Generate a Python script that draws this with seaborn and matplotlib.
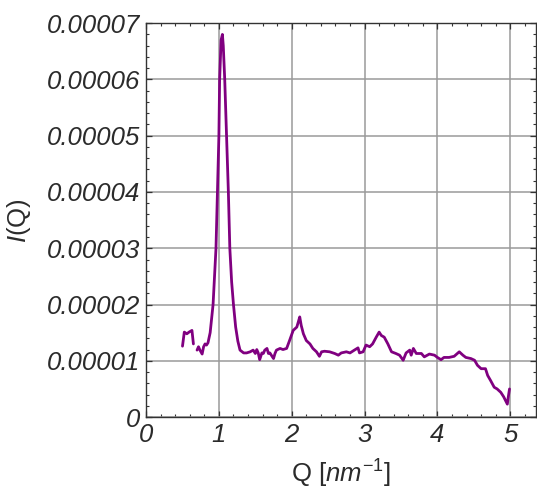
import numpy as np
import pandas as pd
import matplotlib
matplotlib.use("Agg")
import matplotlib.pyplot as plt
import seaborn as sns
from matplotlib.ticker import MultipleLocator

# Data (Q in nm^-1, I(Q) in units of 1e-5)
q_seg1 = [0.50, 0.525, 0.56, 0.59, 0.63, 0.65]
i_seg1 = [1.26, 1.51, 1.48, 1.51, 1.54, 1.30]

q_seg2 = [0.70, 0.72, 0.74, 0.77, 0.79, 0.81, 0.83, 0.85, 0.88, 0.90, 0.92, 0.94,
          0.96, 0.98, 1.00, 1.01, 1.03, 1.048, 1.06, 1.08, 1.105, 1.13, 1.15, 1.175,
          1.20, 1.23, 1.26, 1.29, 1.34, 1.38, 1.43, 1.47, 1.50, 1.52, 1.54, 1.56, 1.59,
          1.61, 1.63, 1.66, 1.68, 1.70, 1.72, 1.75, 1.77, 1.79, 1.84, 1.88, 1.93,
          1.97, 2.02, 2.07, 2.09, 2.11, 2.13, 2.16, 2.20, 2.25, 2.29, 2.34, 2.38,
          2.41, 2.45, 2.52, 2.59, 2.64, 2.68, 2.75, 2.80, 2.86, 2.91, 2.93, 2.98,
          3.02, 3.07, 3.11, 3.16, 3.20, 3.23, 3.27, 3.32, 3.37, 3.43, 3.48, 3.53,
          3.57, 3.62, 3.64, 3.67, 3.71, 3.78, 3.82, 3.89, 3.96, 4.00, 4.05, 4.09,
          4.16, 4.23, 4.30, 4.35, 4.39, 4.46, 4.51, 4.55, 4.60, 4.66, 4.69, 4.73,
          4.78, 4.82, 4.87, 4.91, 4.96, 4.97, 4.99]
i_seg2 = [1.19, 1.25, 1.19, 1.12, 1.25, 1.30, 1.28, 1.32, 1.50, 1.75, 2.00, 2.50,
          3.00, 4.00, 5.00, 6.00, 6.70, 6.80, 6.60, 6.00, 5.00, 4.00, 3.00, 2.40,
          2.00, 1.60, 1.35, 1.19, 1.14, 1.14, 1.16, 1.19, 1.13, 1.20, 1.14, 1.02, 1.14,
          1.13, 1.19, 1.22, 1.13, 1.14, 1.10, 1.04, 1.13, 1.19, 1.22, 1.20, 1.22,
          1.36, 1.54, 1.60, 1.69, 1.78, 1.63, 1.48, 1.36, 1.30, 1.22, 1.16, 1.08,
          1.16, 1.17, 1.16, 1.13, 1.10, 1.14, 1.16, 1.14, 1.19, 1.23, 1.14, 1.16,
          1.28, 1.25, 1.30, 1.42, 1.51, 1.45, 1.42, 1.30, 1.16, 1.13, 1.10, 1.01,
          1.14, 1.19, 1.10, 1.22, 1.13, 1.13, 1.07, 1.12, 1.10, 1.06, 1.02, 1.06,
          1.06, 1.08, 1.16, 1.10, 1.06, 1.04, 1.01, 0.92, 0.86, 0.86, 0.74, 0.65,
          0.53, 0.50, 0.44, 0.36, 0.23, 0.33, 0.50]

x_ticks = [0, 1, 2, 3, 4, 5]
y_ticks = [0, 1e-5, 2e-5, 3e-5, 4e-5, 5e-5, 6e-5, 7e-5]
y_tick_labels = ["0", "0.00001", "0.00002", "0.00003", "0.00004", "0.00005", "0.00006", "0.00007"]

df = pd.DataFrame({
    "Q": q_seg1 + q_seg2,
    "I": [v * 1e-5 for v in i_seg1 + i_seg2],
    "seg": [0] * len(q_seg1) + [1] * len(q_seg2),
})

sns.set_style("white")
plt.rcParams["font.family"] = ["Liberation Sans", "DejaVu Sans"]
plt.rcParams["mathtext.fontset"] = "custom"
plt.rcParams["mathtext.rm"] = "Liberation Sans"
plt.rcParams["mathtext.it"] = "Liberation Sans:italic"

fig = plt.figure(figsize=(5.37, 4.93), dpi=100)
ax = fig.add_axes([0.272, 0.154, 0.727, 0.799])

sns.lineplot(data=df, x="Q", y="I", units="seg", estimator=None,
             color="#800080", linewidth=2.0, ax=ax, legend=False)

ax.set_xlim(0, 5.36)
ax.set_ylim(0, 7e-5)
ax.set_xticks(x_ticks)
ax.set_xticklabels([str(t) for t in x_ticks])
ax.set_yticks(y_ticks)
ax.set_yticklabels(y_tick_labels)
ax.xaxis.set_minor_locator(MultipleLocator(0.2))
ax.yaxis.set_minor_locator(MultipleLocator(2e-6))

ax.grid(True, which="major", color="#9a9a9a", linewidth=1.1)
ax.set_axisbelow(True)
for s in ax.spines.values():
    s.set_color("#333333")
    s.set_linewidth(1.0)

ax.tick_params(which="both", direction="in", top=True, right=True, bottom=True, left=True,
               colors="#333333", labelcolor="#2b2b2b")
ax.tick_params(which="major", length=4, width=0.9, labelsize=18.5, pad=4)
ax.tick_params(which="minor", length=2.5, width=0.8)
for lab in ax.get_xticklabels() + ax.get_yticklabels():
    lab.set_fontstyle("italic")

ax.set_xlabel(r"Q [$\mathit{nm}^{-1}$]", fontsize=18.5, color="#2b2b2b", labelpad=8)
ax.set_ylabel(r"$\mathit{I}$(Q)", fontsize=18.5, color="#2b2b2b", labelpad=10)

fig.savefig("out.png", dpi=100)
